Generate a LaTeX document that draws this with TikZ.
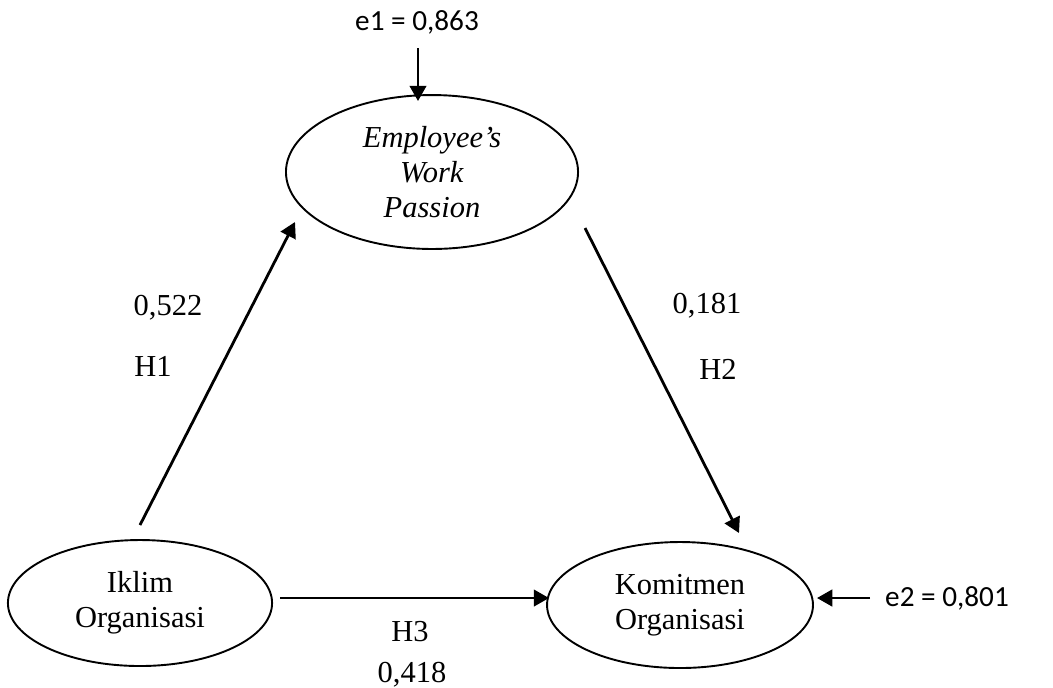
\documentclass[tikz,border=0pt]{standalone}
\usepackage{fontspec}
\setmainfont{Liberation Serif}
\newfontfamily\calib{Carlito}
\usetikzlibrary{shapes.geometric,arrows.meta}
\begin{document}
\begin{tikzpicture}[x=0.3937pt,y=-0.3937pt,
  latent/.style={ellipse,draw,line width=0.75pt,inner sep=0pt,align=center,
    font=\fontsize{12}{13.8}\selectfont},
  path/.style={line width=1.1pt,-{Triangle[length=6pt,width=6.5pt]}},
  coef/.style={font=\fontsize{12}{13.8}\selectfont,inner sep=0pt},
  errlab/.style={font=\calib\fontsize{11.5}{13}\selectfont,inner sep=0pt}]
\useasboundingbox (0,0) rectangle (1053,687);
\node[latent,minimum width=115pt,minimum height=60.6pt] (E) at (432,172) {\textit{Employee’s}\\\textit{Work}\\\textit{Passion}};
\node[latent,minimum width=104pt,minimum height=49.6pt] (I) at (140,603) {Iklim\\Organisasi};
\node[latent,minimum width=104.7pt,minimum height=49.6pt] (K) at (680,605) {Komitmen\\Organisasi};
\node[errlab] (e1) at (417,22) {e1 = 0,863};
\node[errlab] (e2) at (947,598) {e2 = 0,801};
\coordinate (e1s) at (418,48);
\coordinate (e1t) at (418,101);
\coordinate (e2s) at (870,598);
\coordinate (e2t) at (817,598);
\coordinate (h1s) at (140,525);
\coordinate (h1t) at (295,222);
\coordinate (h2s) at (585,228);
\coordinate (h2t) at (739,533);
\coordinate (h3s) at (280,598);
\coordinate (h3t) at (549,598);
\draw[path] (e1s) -- (e1t);
\draw[path] (e2s) -- (e2t);
\draw[path] (h1s) -- (h1t);
\draw[path] (h2s) -- (h2t);
\draw[path] (h3s) -- (h3t);
\node[coef] (c1) at (168,308) {0,522};
\node[coef] (l1) at (153,366) {H1};
\node[coef] (c2) at (707,306) {0,181};
\node[coef] (l2) at (718,369) {H2};
\node[coef] (l3) at (410,632) {H3};
\node[coef] (c3) at (412,675) {0,418};
\end{tikzpicture}
\end{document}
